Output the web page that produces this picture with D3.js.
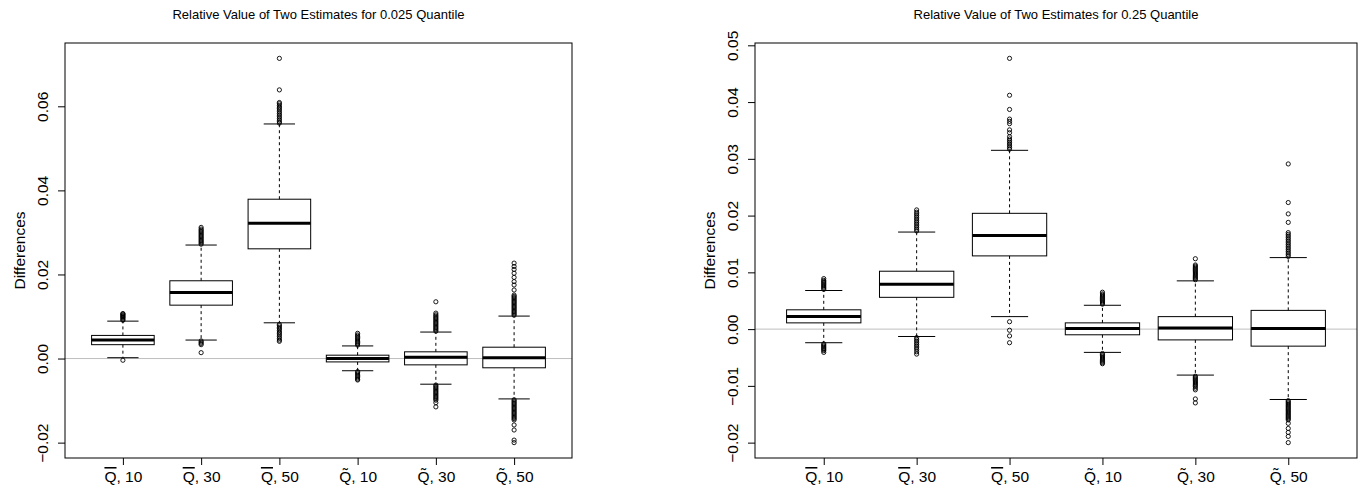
<!DOCTYPE html>
<html>
<head>
<meta charset="utf-8">
<script src="https://cdn.jsdelivr.net/npm/d3@7"></script>
<style>
  body { margin: 0; background: #fff; }
  text { font-family: "Liberation Sans", Arial, sans-serif; fill: #000; }
</style>
</head>
<body>
<svg id="plots" width="1364" height="491"></svg>
<script>
const titles = [
  'Relative Value of Two Estimates for 0.025 Quantile',
  'Relative Value of Two Estimates for 0.25 Quantile'
];
const groupSizes = ['10', '30', '50', '10', '30', '50'];
const groupMarks = ['bar', 'bar', 'bar', 'tilde', 'tilde', 'tilde'];
const yLabel = 'Differences';

// per group: [lower whisker, Q1, median, Q3, upper whisker]
const stats025 = [
  [0.0002, 0.0033, 0.0044, 0.0055, 0.0089],
  [0.0044, 0.0127, 0.0157, 0.0185, 0.0270],
  [0.0085, 0.0261, 0.0322, 0.0379, 0.0558],
  [-0.0029, -0.0008, 0.0000, 0.0008, 0.0030],
  [-0.0061, -0.0015, 0.0003, 0.0016, 0.0063],
  [-0.0096, -0.0022, 0.0002, 0.0027, 0.0101]
];
const outliers025 = [
  [0.0091, 0.0093, 0.0096, 0.0098, 0.0100, 0.0102, 0.0104, 0.0106, 0.0107, -0.0004],
  [0.0272, 0.0275, 0.0278, 0.0281, 0.0284, 0.0287, 0.0290, 0.0293, 0.0296, 0.0299, 0.0302, 0.0305, 0.0308, 0.0312,
   0.0042, 0.0039, 0.0036, 0.0033, 0.0014],
  [0.0560, 0.0563, 0.0567, 0.0571, 0.0575, 0.0579, 0.0583, 0.0587, 0.0591, 0.0595, 0.0598, 0.0602, 0.0606, 0.0609, 0.0639, 0.0714,
   0.0081, 0.0078, 0.0074, 0.0071, 0.0067, 0.0063, 0.0060, 0.0056, 0.0052, 0.0048, 0.0044, 0.0041],
  [0.0032, 0.0035, 0.0038, 0.0041, 0.0044, 0.0047, 0.0050, 0.0053, 0.0056, 0.0060,
   -0.0031, -0.0034, -0.0037, -0.0040, -0.0043, -0.0046, -0.0049, -0.0051],
  [0.0065, 0.0068, 0.0071, 0.0074, 0.0077, 0.0080, 0.0083, 0.0086, 0.0089, 0.0092, 0.0095, 0.0098, 0.0101, 0.0104, 0.0108, 0.0135,
   -0.0063, -0.0066, -0.0069, -0.0072, -0.0075, -0.0078, -0.0081, -0.0084, -0.0087, -0.0090, -0.0093, -0.0096, -0.0099, -0.0105, -0.0115],
  [0.0103, 0.0106, 0.0109, 0.0112, 0.0115, 0.0118, 0.0121, 0.0124, 0.0127, 0.0130, 0.0133, 0.0136, 0.0139, 0.0142, 0.0145, 0.0148, 0.0151,
   0.0163, 0.0175, 0.0183, 0.0193, 0.0203, 0.0212, 0.0219, 0.0227,
   -0.0098, -0.0101, -0.0104, -0.0107, -0.0110, -0.0113, -0.0116, -0.0119, -0.0122, -0.0125, -0.0128, -0.0131, -0.0134, -0.0137,
   -0.0140, -0.0143, -0.0146, -0.0158, -0.0170, -0.0194, -0.0200]
];
const ticks025 = [-0.02, 0, 0.02, 0.04, 0.06];

const stats25 = [
  [-0.0024, 0.0011, 0.0022, 0.0034, 0.0068],
  [-0.0013, 0.0056, 0.0079, 0.0102, 0.0171],
  [0.0022, 0.0129, 0.0165, 0.0204, 0.0315],
  [-0.0041, -0.0010, 0.0001, 0.0011, 0.0042],
  [-0.0081, -0.0019, 0.0002, 0.0022, 0.0085],
  [-0.0124, -0.0030, 0.0001, 0.0033, 0.0126]
];
const outliers25 = [
  [0.0070, 0.0072, 0.0074, 0.0076, 0.0078, 0.0080, 0.0082, 0.0084, 0.0086, 0.0089,
   -0.0026, -0.0028, -0.0030, -0.0032, -0.0034, -0.0036, -0.0038, -0.0041],
  [0.0173, 0.0176, 0.0179, 0.0182, 0.0185, 0.0188, 0.0191, 0.0194, 0.0197, 0.0200, 0.0203, 0.0206, 0.0210,
   -0.0015, -0.0018, -0.0021, -0.0024, -0.0027, -0.0030, -0.0033, -0.0036, -0.0040, -0.0044],
  [0.0317, 0.0320, 0.0323, 0.0326, 0.0329, 0.0332, 0.0335, 0.0339, 0.0346, 0.0351, 0.0362, 0.0366, 0.0370, 0.0387, 0.0412, 0.0477,
   0.0013, -0.0002, -0.0012, -0.0024],
  [0.0044, 0.0046, 0.0048, 0.0050, 0.0052, 0.0054, 0.0056, 0.0058, 0.0060, 0.0062, 0.0065,
   -0.0043, -0.0045, -0.0047, -0.0049, -0.0051, -0.0053, -0.0055, -0.0057, -0.0059, -0.0061],
  [0.0087, 0.0089, 0.0091, 0.0093, 0.0095, 0.0097, 0.0099, 0.0101, 0.0103, 0.0105, 0.0107, 0.0109, 0.0111, 0.0113, 0.0124,
   -0.0083, -0.0085, -0.0087, -0.0089, -0.0091, -0.0093, -0.0095, -0.0097, -0.0099, -0.0101, -0.0104, -0.0107, -0.0123, -0.0130],
  [0.0128, 0.0131, 0.0134, 0.0137, 0.0140, 0.0143, 0.0146, 0.0149, 0.0152, 0.0155, 0.0158, 0.0161, 0.0164, 0.0167, 0.0170,
   0.0188, 0.0203, 0.0223, 0.0291,
   -0.0126, -0.0128, -0.0130, -0.0132, -0.0134, -0.0136, -0.0138, -0.0140, -0.0142, -0.0144, -0.0146, -0.0148, -0.0150,
   -0.0152, -0.0154, -0.0156, -0.0158, -0.0160, -0.0166, -0.0175, -0.0182, -0.0189, -0.0200]
];
const ticks25 = [-0.02, -0.01, 0, 0.01, 0.02, 0.03, 0.04, 0.05];

main();

function main () {
  const svg = d3.select('svg#plots');
  svg.append('rect').attr('width', 1364).attr('height', 491).attr('fill', '#fff');
  drawPanel(svg, { left: 65, right: 572, top: 43, bottom: 458 }, titles[0], stats025, outliers025, ticks025);
  drawPanel(svg, { left: 755, right: 1357, top: 43, bottom: 458 }, titles[1], stats25, outliers25, ticks25);
}

function drawPanel (svg, box, title, stats, outliers, ticks) {
  const n = stats.length;
  // R style axis ranges: 4% padding on both ends
  const all = d3.merge([d3.merge(stats), d3.merge(outliers)]);
  const [lo, hi] = d3.extent(all);
  const pad = (hi - lo) * 0.04;
  const y = d3.scaleLinear().domain([lo - pad, hi + pad]).range([box.bottom, box.top]);
  const x = d3.scaleLinear().domain([0.5 - n * 0.04, n + 0.5 + n * 0.04]).range([box.left, box.right]);
  const halfBox = x(0.4) - x(0);
  const halfCap = x(0.2) - x(0);

  const g = svg.append('g');

  // reference line at zero
  g.append('line')
    .attr('x1', box.left).attr('x2', box.right)
    .attr('y1', y(0)).attr('y2', y(0))
    .attr('stroke', '#bebebe').attr('stroke-width', 1);

  stats.forEach((s, i) => {
    const cx = x(i + 1);
    const [wLo, q1, med, q3, wHi] = s;
    const bg = g.append('g');
    // whiskers
    [[q3, wHi], [q1, wLo]].forEach(([a, b]) => {
      bg.append('line')
        .attr('x1', cx).attr('x2', cx).attr('y1', y(a)).attr('y2', y(b))
        .attr('stroke', '#000').attr('stroke-dasharray', '3,3');
      bg.append('line')
        .attr('x1', cx - halfCap).attr('x2', cx + halfCap).attr('y1', y(b)).attr('y2', y(b))
        .attr('stroke', '#000');
    });
    bg.append('rect')
      .attr('x', cx - halfBox).attr('y', y(q3))
      .attr('width', halfBox * 2).attr('height', y(q1) - y(q3))
      .attr('fill', 'none').attr('stroke', '#000');
    bg.append('line')
      .attr('x1', cx - halfBox).attr('x2', cx + halfBox).attr('y1', y(med)).attr('y2', y(med))
      .attr('stroke', '#000').attr('stroke-width', 3);
    bg.selectAll('circle').data(outliers[i]).enter().append('circle')
      .attr('cx', cx).attr('cy', d => y(d)).attr('r', 2.1)
      .attr('fill', 'none').attr('stroke', '#000').attr('stroke-width', 0.9);
  });

  // frame
  g.append('rect')
    .attr('x', box.left).attr('y', box.top)
    .attr('width', box.right - box.left).attr('height', box.bottom - box.top)
    .attr('fill', 'none').attr('stroke', '#000');

  // y axis, labels rotated like R
  const yAxis = g.append('g').attr('transform', `translate(${box.left},0)`)
    .call(d3.axisLeft(y).tickValues(ticks).tickSize(7).tickFormat(d3.format('.2f')));
  yAxis.select('.domain').remove();
  yAxis.selectAll('text')
    .attr('transform', 'rotate(-90)')
    .attr('x', 0).attr('y', -17).attr('dy', null)
    .attr('text-anchor', 'middle')
    .attr('font-size', 15.5).attr('font-family', null);

  // x axis with group labels
  const xAxis = g.append('g').attr('transform', `translate(0,${box.bottom})`)
    .call(d3.axisBottom(x).tickValues(d3.range(1, n + 1)).tickSize(7).tickFormat(''));
  xAxis.select('.domain').remove();
  xAxis.selectAll('.tick').each(function (d) {
    const i = d - 1;
    const t = d3.select(this).append('text')
      .attr('y', 24).attr('text-anchor', 'middle').attr('font-size', 15.5);
    if (groupMarks[i] === 'bar') {
      t.append('tspan').text('Q').style('text-decoration', 'overline');
    } else {
      t.append('tspan').text('Q\u0303');
    }
    t.append('tspan').text(', ' + groupSizes[i]);
  });

  g.append('text')
    .attr('x', (box.left + box.right) / 2).attr('y', 19)
    .attr('text-anchor', 'middle').attr('font-size', 13)
    .text(title);

  g.append('text')
    .attr('transform', `translate(${box.left - 40},${(box.top + box.bottom) / 2}) rotate(-90)`)
    .attr('text-anchor', 'middle').attr('font-size', 15.5)
    .text(yLabel);
}
</script>
</body>
</html>
